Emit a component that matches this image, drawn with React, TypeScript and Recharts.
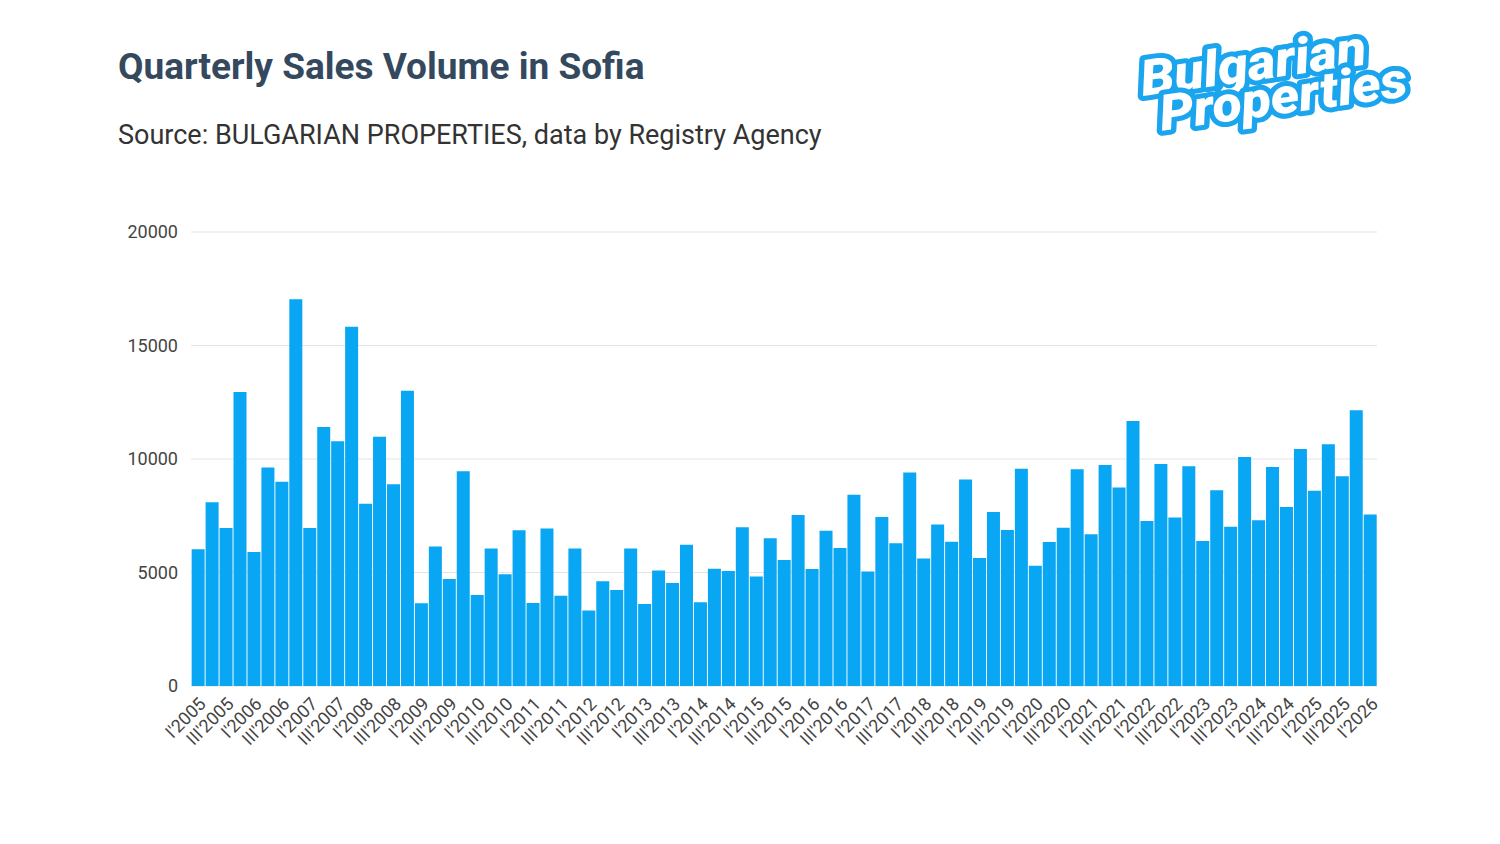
import React from 'react';
import { BarChart, Bar, XAxis, YAxis, CartesianGrid } from 'recharts';

// quarter numerals and years used for the category labels
const QUARTERS = ['I', 'II', 'III', 'IV'];
const FIRST_YEAR = 2005;
const LAST_YEAR = 2026;

// number of deals per quarter, I'2005 .. I'2026
const salesVolume = [
    6020, 8090, 6960, 12950,
    5900, 9630, 9000, 17040,
    6960, 11410, 10780, 15830,
    8030, 10980, 8890, 13010,
    3640, 6140, 4710, 9460,
    4010, 6060, 4920, 6860,
    3660, 6940, 3980, 6060,
    3330, 4610, 4230, 6060,
    3610, 5090, 4540, 6220,
    3690, 5170, 5070, 6990,
    4820, 6510, 5550, 7530,
    5150, 6840, 6080, 8430,
    5040, 7440, 6290, 9410,
    5620, 7110, 6360, 9100,
    5640, 7670, 6870, 9570,
    5300, 6340, 6970, 9550,
    6680, 9740, 8740, 11670,
    7270, 9780, 7420, 9680,
    6390, 8620, 7020, 10090,
    7300, 9650, 7890, 10440,
    8600, 10650, 9240, 12150,
    7550,
];

const yTicks = [0, 5000, 10000, 15000, 20000];

const quarterLabels: string[] = [];
for (let y = FIRST_YEAR; y <= LAST_YEAR; y++) {
    for (const q of QUARTERS) quarterLabels.push(`${q}'${y}`);
}

const data = salesVolume.map((value, i) => ({ quarter: quarterLabels[i], value }));

const BAR_COLOR = '#08a6f3';
const FONT = 'Roboto, "Noto Sans", sans-serif';

function Logo() {
    const common = {
        fontFamily: FONT,
        fontWeight: 900,
        fontStyle: 'italic' as const,
        fontSize: 50,
        fill: '#ffffff',
        stroke: '#1aa5ee',
        strokeWidth: 10,
        strokeLinejoin: 'round' as const,
        paintOrder: 'stroke' as const,
    };
    return (
        <svg width={360} height={160} style={{ position: 'absolute', left: 1100, top: 0 }}>
            <g transform="translate(43 96) rotate(-8) scale(1.08 1)">
                <text x={0} y={0} {...common}>Bulgarian</text>
                <text x={13} y={37} {...common}>Properties</text>
            </g>
        </svg>
    );
}

export default function App() {
    return (
        <div style={{ position: 'absolute', left: 0, top: 0, width: 1500, height: 844, background: '#fff', fontFamily: FONT }}>
            <div style={{ position: 'absolute', left: 118, top: 48, fontSize: 37, fontWeight: 700, color: '#34495e', lineHeight: 1 }}>
                Quarterly Sales Volume in Sofia
            </div>
            <div style={{ position: 'absolute', left: 118, top: 122, fontSize: 27, color: '#333', lineHeight: 1 }}>
                Source: BULGARIAN PROPERTIES, data by Registry Agency
            </div>
            <Logo />
            <div style={{ position: 'absolute', left: 0, top: 0 }}>
                <BarChart
                    width={1500}
                    height={844}
                    data={data}
                    margin={{ top: 232, right: 123, bottom: 38, left: 0 }}
                    barCategoryGap={0.65}
                >
                    <CartesianGrid vertical={false} stroke="#e4e4e4" />
                    <XAxis
                        dataKey="quarter"
                        interval={1}
                        angle={-45}
                        textAnchor="end"
                        height={120}
                        tickLine={false}
                        axisLine={false}
                        tickSize={0}
                        tickMargin={10}
                        tick={{ fontSize: 18, fill: '#444', fontFamily: FONT }}
                    />
                    <YAxis
                        domain={[0, 20000]}
                        ticks={yTicks}
                        width={191}
                        tickLine={false}
                        axisLine={false}
                        tickSize={0}
                        tickMargin={13}
                        tick={{ fontSize: 18, fill: '#444', fontFamily: FONT }}
                    />
                    <Bar dataKey="value" fill={BAR_COLOR} isAnimationActive={false} />
                </BarChart>
            </div>
        </div>
    );
}
